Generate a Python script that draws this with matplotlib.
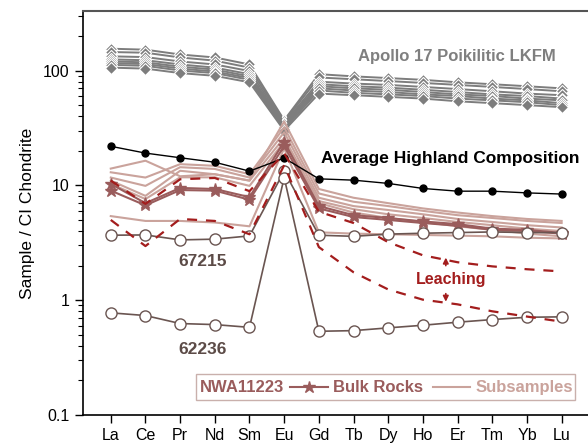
import matplotlib
matplotlib.use("Agg")
import matplotlib.pyplot as plt
from matplotlib.lines import Line2D
from matplotlib.patches import Rectangle

plt.rcParams['font.family'] = ['Liberation Sans', 'DejaVu Sans']

elements = ["La", "Ce", "Pr", "Nd", "Sm", "Eu", "Gd", "Tb", "Dy", "Ho", "Er", "Tm", "Yb", "Lu"]

# Apollo 17 poikilitic LKFM melt breccias
lkfm_1 = [155, 152, 138, 130, 113, 37, 93, 89, 86, 83, 79, 76, 73, 70]
lkfm_2 = [145, 143, 130, 122, 106, 36, 87, 84, 81, 78, 75, 72, 69, 66]
lkfm_3 = [133, 131, 120, 113, 99, 35, 80, 77, 75, 72, 69, 66, 63, 61]
lkfm_4 = [125, 123, 113, 106, 93, 34, 76, 73, 71, 68, 65, 62, 60, 57]
lkfm_5 = [120, 118, 108, 102, 89, 33, 73, 70, 68, 65, 62, 60, 57, 55]
lkfm_6 = [116, 114, 104, 98, 86, 32, 70, 67, 65, 62, 60, 57, 55, 52]
lkfm_7 = [112, 110, 100, 95, 83, 31, 67, 64, 62, 60, 57, 55, 53, 50]
lkfm_8 = [106, 104, 95, 90, 79, 30, 63, 61, 59, 57, 54, 52, 50, 48]
lkfm_series = [lkfm_1, lkfm_2, lkfm_3, lkfm_4, lkfm_5, lkfm_6, lkfm_7, lkfm_8]

# Average lunar highland crust
highland = [21.9, 19.1, 17.4, 15.9, 13.3, 17.3, 11.4, 11.1, 10.4, 9.4, 8.9, 8.9, 8.6, 8.4]

# NWA 11223 subsamples
sub_1 = [14.0, 16.4, 12.0, 12.5, 11.0, 36, 9.3, 7.8, 7.0, 6.3, 5.8, 5.4, 5.1, 4.9]
sub_2 = [13.0, 11.7, 15.3, 14.8, 12.5, 32, 8.5, 7.2, 6.6, 6.0, 5.5, 5.2, 4.9, 4.7]
sub_3 = [11.7, 9.9, 14.4, 13.9, 11.7, 29, 7.8, 6.6, 6.1, 5.6, 5.1, 4.8, 4.5, 4.3]
sub_4 = [11.0, 8.1, 13.4, 12.5, 11.0, 26, 7.3, 6.2, 5.6, 5.2, 4.8, 4.5, 4.2, 4.0]
sub_5 = [10.3, 7.6, 11.75, 11.75, 9.9, 24, 7.0, 5.8, 5.2, 4.8, 4.4, 4.1, 3.8, 3.6]
sub_6 = [5.4, 4.9, 4.9, 4.75, 4.4, 21, 3.9, 3.8, 3.75, 3.7, 3.65, 3.6, 3.5, 3.45]
sub_series = [sub_1, sub_2, sub_3, sub_4, sub_5, sub_6]

# NWA 11223 bulk rocks
bulk_1 = [10.3, 7.0, 9.5, 9.3, 7.9, 24, 6.6, 5.5, 5.2, 4.85, 4.6, 4.2, 4.1, 3.85]
bulk_2 = [9.0, 6.7, 9.1, 9.0, 7.5, 22, 6.3, 5.3, 5.0, 4.7, 4.45, 4.1, 4.0, 3.8]
bulk_series = [bulk_1, bulk_2]

# Leached subsamples
leach_1 = [11.0, 6.9, 11.3, 11.6, 8.9, 19, 5.9, 4.7, 3.2, 2.46, 2.14, 1.97, 1.86, 1.78]
leach_2 = [5.0, 2.96, 5.1, 4.9, 3.75, 15, 2.9, 1.75, 1.24, 1.01, 0.92, 0.80, 0.72, 0.65]
leach_series = [leach_1, leach_2]

# Apollo 16 ferroan anorthosites
s67215 = [3.68, 3.7, 3.35, 3.4, 3.63, 13.3, 3.68, 3.6, 3.76, 3.83, 3.88, 3.93, 3.88, 3.88]
s62236 = [0.776, 0.735, 0.626, 0.613, 0.58, 11.7, 0.536, 0.543, 0.574, 0.605, 0.643, 0.678, 0.71, 0.716]

x = list(range(len(elements)))

fig = plt.figure(figsize=(5.88, 4.44), dpi=100)
ax = fig.add_axes([0.1406, 0.0653, 0.8594, 0.9099])
ax.set_yscale("log")
ax.set_xlim(-0.81, 13.76)
ax.set_ylim(0.1, 330)

grey = "#7d7d7d"
sub_c = "#caa39c"
bulk_c = "#9a5c5c"
leach_c = "#a31d1d"
anor_c = "#6a5551"

for s in lkfm_series:
    ax.plot(x, s, color=grey, lw=1.4, marker="D", ms=6.5, mfc=grey,
            mec="white", mew=0.8, zorder=2)

for s in sub_series:
    ax.plot(x, s, color=sub_c, lw=1.5, zorder=3)

for s in bulk_series:
    ax.plot(x, s, color=bulk_c, lw=1.5, marker="*", ms=9, mfc=bulk_c,
            mec=bulk_c, zorder=4)

ax.plot(x, highland, color="black", lw=1.0, marker="o", ms=5, mfc="black",
        mec="black", zorder=5)

for s in (s67215, s62236):
    ax.plot(x, s, color=anor_c, lw=1.2, marker="o", ms=8, mfc="white",
            mec=anor_c, mew=1.0, zorder=5)

for s in leach_series:
    ax.plot(x, s, color=leach_c, lw=1.6, ls=(0, (4.5, 4)), zorder=6)

# Annotations
ax.text(9.98, 132, "Apollo 17 Poikilitic LKFM", color="#7f7f7f", fontsize=12,
        fontweight="bold", ha="center", va="center")
ax.text(9.78, 17.0, "Average Highland Composition", color="black", fontsize=12.5,
        fontweight="bold", ha="center", va="center")
ax.text(2.66, 2.18, "67215", color="#5c4b47", fontsize=12.5, fontweight="bold",
        ha="center", va="center")
ax.text(2.66, 0.371, "62236", color="#5c4b47", fontsize=12.5, fontweight="bold",
        ha="center", va="center")
ax.text(9.8, 1.52, "Leaching", color=leach_c, fontsize=11.5, fontweight="bold",
        ha="center", va="center")
ax.annotate("", xy=(9.66, 2.35), xytext=(9.66, 2.0),
            arrowprops=dict(arrowstyle="-|>", color=leach_c, lw=1.2,
                            mutation_scale=8, shrinkA=0, shrinkB=0))
ax.annotate("", xy=(9.66, 0.97), xytext=(9.66, 1.14),
            arrowprops=dict(arrowstyle="-|>", color=leach_c, lw=1.2,
                            mutation_scale=8, shrinkA=0, shrinkB=0))

# Legend box
tr = ax.transAxes
ax.add_patch(Rectangle((0.224, 0.037), 0.750, 0.0645, transform=tr,
                       fill=False, ec="#c9b0ac", lw=1.0, zorder=7))
ax.text(0.231, 0.069, "NWA11223", transform=tr, color=bulk_c, fontsize=12,
        fontweight="bold", ha="left", va="center", zorder=8)
ax.add_line(Line2D([0.410, 0.485], [0.069, 0.069], transform=tr, color=bulk_c,
                   lw=1.5, zorder=8))
ax.add_line(Line2D([0.4475], [0.069], transform=tr, color=bulk_c, marker="*",
                   ms=9, zorder=8))
ax.text(0.495, 0.069, "Bulk Rocks", transform=tr, color=bulk_c, fontsize=12,
        fontweight="bold", ha="left", va="center", zorder=8)
ax.add_line(Line2D([0.693, 0.766], [0.069, 0.069], transform=tr, color=sub_c,
                   lw=1.5, zorder=8))
ax.text(0.778, 0.069, "Subsamples", transform=tr, color=sub_c, fontsize=12,
        fontweight="bold", ha="left", va="center", zorder=8)

# Axes styling
ax.set_xticks(x)
ax.set_xticklabels(elements)
ax.set_yticks([0.1, 1, 10, 100])
ax.set_yticklabels(["0.1", "1", "10", "100"])
ax.tick_params(axis="both", which="major", direction="out", length=6,
               width=1.0, labelsize=11.5)
ax.tick_params(axis="y", which="minor", direction="out", length=3.5, width=0.8)
ax.tick_params(axis="x", which="minor", bottom=False)
ax.set_ylabel("Sample / CI Chondrite", fontsize=12.5, labelpad=6)
ax.spines["right"].set_visible(False)
ax.spines["top"].set_color("#555555")
ax.spines["top"].set_linewidth(1.5)
for sp in ("left", "bottom"):
    ax.spines[sp].set_linewidth(1.2)

fig.savefig("out.png", dpi=100)
